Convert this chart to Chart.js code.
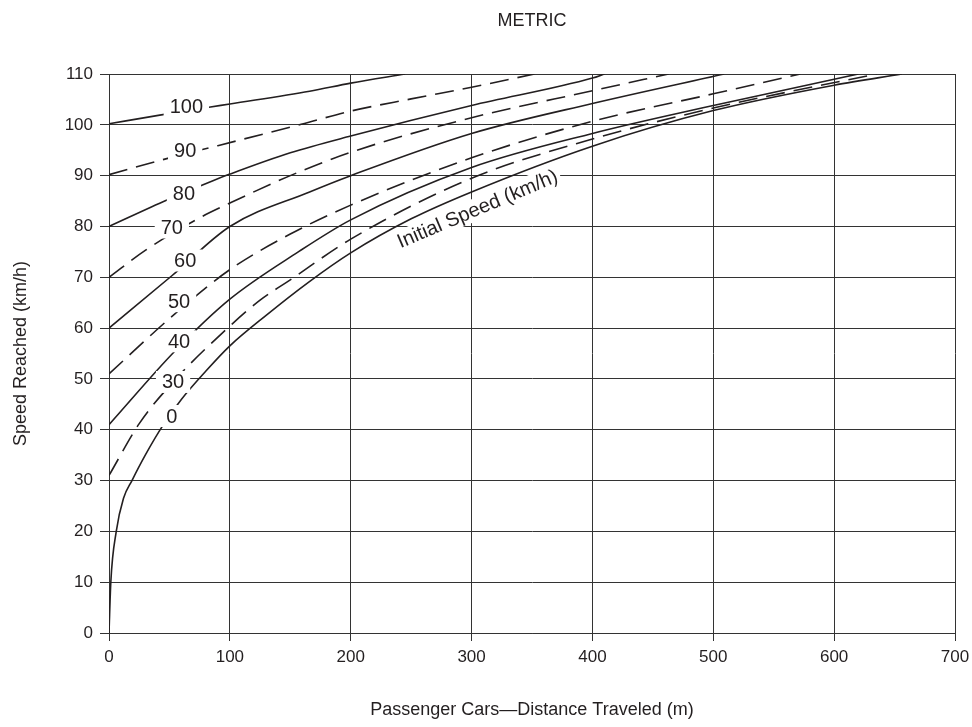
<!DOCTYPE html>
<html>
<head>
<meta charset="utf-8">
<title>METRIC</title>
<script src="https://cdn.jsdelivr.net/npm/chart.js@4.4.0/dist/chart.umd.min.js"></script>
<style>
  html, body { margin: 0; padding: 0; background: #fff; }
  #wrap { width: 972px; height: 727px; }
</style>
</head>
<body>
<div id="wrap"><canvas id="speedChart" width="972" height="727"></canvas></div>
<script>
// initial speed of each curve (km/h), top to bottom
const initialSpeeds = [100, 90, 80, 70, 60, 50, 40, 30, 0];

// distance travelled (m) / speed reached (km/h)
const dist100 = [0, 42, 84, 100, 166, 200, 245];
const reach100 = [100.2, 101.9, 103.5, 104.1, 106.6, 108.2, 110];

const dist90 = [0, 47, 90, 159, 200, 250, 300, 352];
const reach90 = [90.2, 93.3, 95.9, 100.1, 102.7, 105.1, 107.4, 110];

const dist80 = [0, 48, 86, 100, 150, 200, 300, 400, 410];
const reach80 = [80, 85.2, 89, 90.3, 94.5, 97.8, 103.8, 109.2, 110];

const dist70 = [0, 30, 75, 100, 150, 200, 300, 400, 463];
const reach70 = [70, 75.3, 81.7, 84.6, 90, 94.6, 101.4, 106.7, 110];

const dist60 = [0, 52, 100, 166, 200, 300, 400, 509];
const reach60 = [60, 70.3, 80, 86.8, 90, 98.3, 104.2, 110];

const dist50 = [0, 55, 100, 150, 200, 300, 400, 500, 572];
const reach50 = [51, 62.9, 71.5, 78.5, 84.2, 93.5, 100.7, 106.1, 110];

const dist40 = [0, 55, 100, 156, 200, 300, 400, 500, 620];
const reach40 = [41, 55.6, 65.7, 74.9, 81.3, 91.6, 98.3, 103.8, 110];

const dist30 = [0, 25, 53, 100, 125, 150, 200, 300, 400, 500, 635];
const reach30 = [31, 41.2, 49.4, 60.4, 65.5, 69.5, 77.5, 89.5, 97.2, 103.3, 110];

const dist0 = [0, 1.5, 6, 12, 19, 30, 45, 60, 80, 100, 130, 165, 200, 250, 300, 400, 500, 600, 656];
const reach0 = [0, 10, 20, 26.5, 30, 35, 41, 46, 51.5, 56.5, 62.5, 69, 74.8, 81.5, 86.8, 95.8, 102.8, 107.8, 110];

// where the speed labels sit on each curve
const labelDist = [64, 63, 62, 52, 63, 58, 58, 53, 52];
const labelReach = [103.6, 94.9, 86.5, 79.8, 73.3, 65.3, 57.4, 49.4, 42.7];

const distances = [dist100, dist90, dist80, dist70, dist60, dist50, dist40, dist30, dist0];
const reached = [reach100, reach90, reach80, reach70, reach60, reach50, reach40, reach30, reach0];

const INK = '#231f20';
const GRID = '#333333';
const FONT = '"Liberation Sans", Arial, Helvetica, sans-serif';

const datasets = initialSpeeds.map((s, i) => ({
    label: s + ' km/h',
    data: distances[i].map((d, j) => ({ x: d, y: reached[i][j] })),
    borderColor: INK,
    borderWidth: 1.6,
    borderDash: i % 2 === 1 ? [19, 9] : [],
    pointRadius: 0,
    fill: false,
    cubicInterpolationMode: 'monotone'
}));

// labels on the curves, the rotated note and the title
const annotatePlugin = {
    id: 'annotate',
    afterDatasetsDraw(chart) {
        const { ctx, chartArea, scales: { x, y } } = chart;
        ctx.save();
        ctx.font = '20px ' + FONT;
        ctx.textAlign = 'center';
        ctx.textBaseline = 'middle';
        initialSpeeds.forEach((s, i) => {
            const txt = String(s);
            const px = x.getPixelForValue(labelDist[i]);
            const py = y.getPixelForValue(labelReach[i]);
            const w = ctx.measureText(txt).width + 12;
            ctx.fillStyle = '#fff';
            ctx.fillRect(px - w / 2, py - 11, w, 22);
            ctx.fillStyle = INK;
            ctx.fillText(txt, px, py + 1);
        });

        // "Initial Speed (km/h)" along the curves
        const note = 'Initial Speed (km/h)';
        const nx = x.getPixelForValue(304.8);
        const ny = y.getPixelForValue(83.5);
        ctx.translate(nx, ny);
        ctx.rotate(-23 * Math.PI / 180);
        const nw = ctx.measureText(note).width + 6;
        ctx.fillStyle = '#fff';
        ctx.fillRect(-nw / 2, -11, nw, 22);
        ctx.fillStyle = INK;
        ctx.fillText(note, 0, 1);
        ctx.setTransform(1, 0, 0, 1, 0, 0);

        ctx.font = '18px ' + FONT;
        ctx.fillText('METRIC', (chartArea.left + chartArea.right) / 2, 21);
        ctx.restore();
    }
};

new Chart(document.getElementById('speedChart'), {
    type: 'line',
    data: { datasets: datasets },
    options: {
        responsive: false,
        animation: false,
        layout: { padding: { top: 74, left: 0, right: 0, bottom: 0 } },
        plugins: {
            legend: { display: false },
            tooltip: { enabled: false },
            title: { display: false }
        },
        scales: {
            x: {
                type: 'linear',
                min: 0,
                max: 700,
                ticks: { stepSize: 100, color: INK, padding: 6, font: { family: FONT, size: 17 } },
                grid: { color: GRID, lineWidth: 1, tickLength: 8 },
                border: { color: GRID },
                title: {
                    display: true,
                    text: 'Passenger Cars\u2014Distance Traveled (m)',
                    color: INK,
                    font: { family: FONT, size: 18 },
                    padding: { top: 0, bottom: 6 }
                },
                afterFit(scale) {
                    scale.height = 94;
                    scale.paddingRight = 17;
                    scale.paddingLeft = 0;
                }
            },
            y: {
                type: 'linear',
                min: 0,
                max: 110,
                ticks: { stepSize: 10, color: INK, padding: 7, font: { family: FONT, size: 17 } },
                grid: { color: GRID, lineWidth: 1, tickLength: 9 },
                border: { color: GRID },
                title: {
                    display: true,
                    text: 'Speed Reached (km/h)',
                    color: INK,
                    font: { family: FONT, size: 18 },
                    padding: { top: 10, bottom: 0 }
                },
                afterFit(scale) {
                    scale.width = 109;
                    scale.paddingTop = 0;
                    scale.paddingBottom = 0;
                }
            }
        }
    },
    plugins: [annotatePlugin]
});
</script>
</body>
</html>
